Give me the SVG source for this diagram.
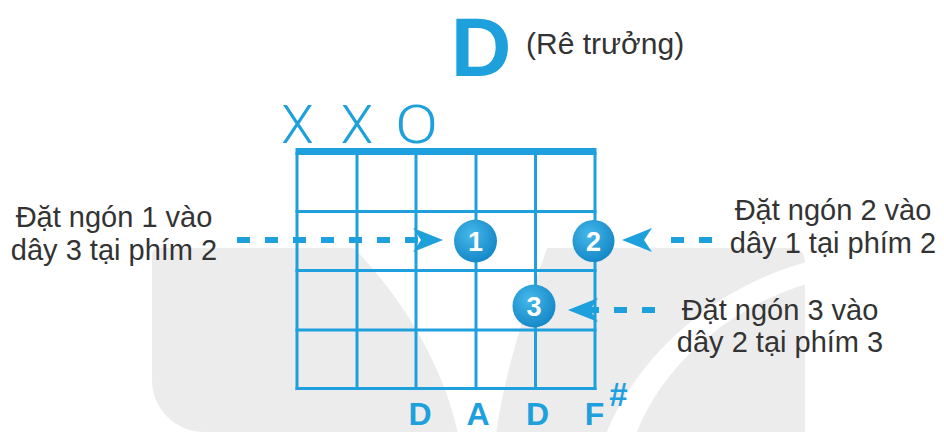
<svg xmlns="http://www.w3.org/2000/svg" width="944" height="432" viewBox="0 0 944 432">
<defs>
<style>
.t{font-family:"Liberation Sans",Arial,sans-serif;fill:#333333;font-size:29px;text-anchor:middle}
.grid line{stroke:#1ea0dc;stroke-width:3}
.xo{font-family:Roboto,"Liberation Sans",sans-serif;font-weight:300;font-size:53px;fill:#1ea0dc;text-anchor:middle}
.num{font-family:"Liberation Sans",Arial,sans-serif;font-weight:bold;font-size:27px;fill:#ffffff;text-anchor:middle}
.dash{stroke:#1ea0dc;stroke-width:6;stroke-dasharray:13 15;fill:none}
.head{fill:#1ea0dc}
.note{font-family:"Liberation Sans",Arial,sans-serif;font-weight:bold;font-size:32px;fill:#1ea0dc;text-anchor:middle}
.wm{fill:#ececec}
</style>
<radialGradient id="ball" cx="0.4" cy="0.35" r="0.7">
<stop offset="0" stop-color="#45b8ea"/>
<stop offset="1" stop-color="#1285c6"/>
</radialGradient>
</defs>
<rect width="944" height="432" fill="#ffffff"/>
<g id="watermark">
<path class="wm" d="M152,256 Q152,248 160,248 L790,248 Q805,248 805,263 L805,432 L204,432 A52,52 0 0 1 152,380 Z"/>
<path fill="#ffffff" d="M352,246 L548,246 C528,300 505,370 496,434 L458,434 C445,370 405,300 352,246 Z"/>
<path fill="#ffffff" d="M606,434 C640,350 720,285 807,262 L807,284 C735,305 665,360 636,434 Z"/>
</g>
<g id="title">
<text x="481" y="76" font-family="Liberation Sans, Arial, sans-serif" font-weight="bold" font-size="84" fill="#1ea0dc" text-anchor="middle">D</text>
<text x="526" y="54" font-family="Liberation Sans, Arial, sans-serif" font-size="30" fill="#333333">(Rê trưởng)</text>
</g>
<g id="fretboard" class="grid">
<rect x="295.5" y="148" width="301" height="7" fill="#1ea0dc"/>
<line x1="297" y1="152" x2="297" y2="390"/>
<line x1="357" y1="152" x2="357" y2="390"/>
<line x1="416" y1="152" x2="416" y2="390"/>
<line x1="476" y1="152" x2="476" y2="390"/>
<line x1="535.5" y1="152" x2="535.5" y2="390"/>
<line x1="595" y1="152" x2="595" y2="390"/>
<line x1="295.5" y1="211.5" x2="596.5" y2="211.5"/>
<line x1="295.5" y1="270.5" x2="596.5" y2="270.5"/>
<line x1="295.5" y1="330" x2="596.5" y2="330"/>
<line x1="295.5" y1="388.5" x2="596.5" y2="388.5"/>
</g>
<g id="open-mute">
<text class="xo" x="297.5" y="143">X</text>
<text class="xo" x="357" y="143">X</text>
<text class="xo" transform="translate(416.5,143) scale(1.2,1)">O</text>
</g>
<g id="connectors">
<path class="dash" d="M237,240 H418"/>
<polygon class="head" points="443,240 413,228 421,240 413,252"/>
<path class="dash" d="M712,240 H656"/>
<polygon class="head" points="622,240 652,228 644,240 652,252"/>
<path class="dash" d="M655,310 H590"/>
<polygon class="head" points="568,310 598,298 590,310 598,322"/>
</g>
<g id="finger1">
<circle cx="475.5" cy="241" r="21.5" fill="url(#ball)"/>
<text class="num" x="475.5" y="251">1</text>
</g>
<g id="finger2">
<circle cx="593.5" cy="241" r="21" fill="url(#ball)"/>
<text class="num" x="593.5" y="251">2</text>
</g>
<g id="finger3">
<circle cx="534" cy="306" r="21.5" fill="url(#ball)"/>
<text class="num" x="534" y="316">3</text>
</g>
<g id="label1">
<text class="t" x="114" y="227">Đặt ngón 1 vào</text>
<text class="t" x="114" y="260">dây 3 tại phím 2</text>
</g>
<g id="label2">
<text class="t" x="833" y="220">Đặt ngón 2 vào</text>
<text class="t" x="833" y="253">dây 1 tại phím 2</text>
</g>
<g id="label3">
<text class="t" x="780" y="320">Đặt ngón 3 vào</text>
<text class="t" x="780" y="352">dây 2 tại phím 3</text>
</g>
<g id="notes">
<text class="note" x="420" y="425">D</text>
<text class="note" x="478" y="425">A</text>
<text class="note" x="537.5" y="425">D</text>
<text class="note" x="594.5" y="425">F<tspan x="618" y="406" font-size="33" font-style="italic">#</tspan></text>
</g>
</svg>
